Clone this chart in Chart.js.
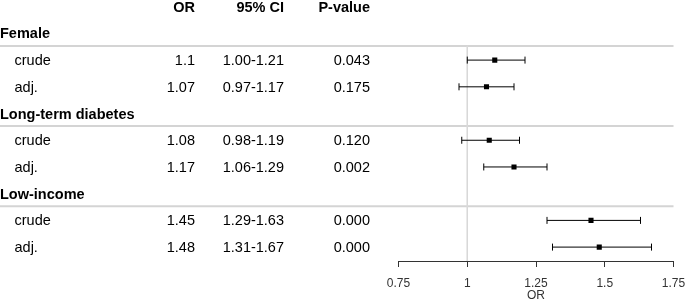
<!DOCTYPE html>
<html><head><meta charset="utf-8">
<script src="https://cdn.jsdelivr.net/npm/chart.js@4.4.0/dist/chart.umd.min.js"></script>
<style>html,body{margin:0;padding:0;background:#fff}#wrap{width:685px;height:301px;position:relative}</style>
</head><body><div id="wrap"><canvas id="c" width="685" height="301"></canvas></div>
<script>
// ---- data ----
const groups = ['Female', 'Long-term diabetes', 'Low-income'];
const rowLabels = ['crude', 'adj.', 'crude', 'adj.', 'crude', 'adj.'];
const orValues = [1.1, 1.07, 1.08, 1.17, 1.45, 1.48];
const ciLow = [1.00, 0.97, 0.98, 1.06, 1.29, 1.31];
const ciHigh = [1.21, 1.17, 1.19, 1.29, 1.63, 1.67];
const orText = ['1.1', '1.07', '1.08', '1.17', '1.45', '1.48'];
const ciText = ['1.00-1.21', '0.97-1.17', '0.98-1.19', '1.06-1.29', '1.29-1.63', '1.31-1.67'];
const pText = ['0.043', '0.175', '0.120', '0.002', '0.000', '0.000'];
const headers = ['OR', '95% CI', 'P-value'];
const xTicks = [0.75, 1, 1.25, 1.5, 1.75];
const xTitle = 'OR';
const refValue = 1;

// ---- row positions (category index on y scale) ----
const rowsPerGroup = 2;
const rowY = i => 3 * Math.floor(i / rowsPerGroup) + 2 + (i % rowsPerGroup);
const groupY = g => 3 * g + 1;
const sepY = g => 3 * g + 1.47;
const headerY = 0;

const FONT = '"Liberation Sans", Arial, Helvetica, sans-serif';

const datasets = [];
datasets.push({
  label: 'OR',
  data: orValues.map((v, i) => ({ x: v, y: rowY(i) })),
  showLine: false,
  pointStyle: 'rect',
  pointRadius: 3.6,
  backgroundColor: '#000',
  borderColor: '#000',
  borderWidth: 0
});
orValues.forEach((v, i) => {
  datasets.push({
    label: 'CI ' + i,
    data: [{ x: ciLow[i], y: rowY(i) }, { x: ciHigh[i], y: rowY(i) }],
    showLine: true,
    borderColor: '#000',
    borderWidth: 1,
    pointStyle: 'line',
    pointRotation: 90,
    pointRadius: 3.5,
    pointBorderColor: '#000',
    pointBorderWidth: 1
  });
});
datasets.push({
  label: 'ref',
  data: [{ x: refValue, y: sepY(0) }, { x: refValue, y: 20 }],
  showLine: true,
  borderColor: '#d9d9d9',
  borderWidth: 1,
  pointRadius: 0
});

const tablePlugin = {
  id: 'table',
  beforeDatasetsDraw(chart) {
    const { ctx, scales: { y } } = chart;
    ctx.save();
    ctx.strokeStyle = '#d4d4d4';
    ctx.lineWidth = 2;
    groups.forEach((g, gi) => {
      const py = y.getPixelForValue(sepY(gi));
      ctx.beginPath();
      ctx.moveTo(0, py);
      ctx.lineTo(chart.chartArea.right, py);
      ctx.stroke();
    });
    ctx.restore();
  },
  afterDraw(chart) {
    const { ctx, scales: { y } } = chart;
    const base = 5;
    const colOR = 195, colCI = 284, colP = 370;
    ctx.save();
    ctx.fillStyle = '#000';
    ctx.textBaseline = 'alphabetic';
    ctx.font = 'bold 14.5px ' + FONT;
    ctx.textAlign = 'right';
    const hy = y.getPixelForValue(headerY) + base;
    ctx.fillText(headers[0], colOR, hy);
    ctx.fillText(headers[1], colCI, hy);
    ctx.fillText(headers[2], colP, hy);
    ctx.textAlign = 'left';
    groups.forEach((g, gi) => {
      ctx.fillText(g, 0, y.getPixelForValue(groupY(gi)) + base);
    });
    ctx.font = '14.5px ' + FONT;
    rowLabels.forEach((lab, i) => {
      const py = y.getPixelForValue(rowY(i)) + base;
      ctx.textAlign = 'left';
      ctx.fillText(lab, 14.5, py);
      ctx.textAlign = 'right';
      ctx.fillText(orText[i], colOR, py);
      ctx.fillText(ciText[i], colCI, py);
      ctx.fillText(pText[i], colP, py);
    });
    ctx.restore();
  }
};

new Chart(document.getElementById('c'), {
  type: 'scatter',
  data: { datasets },
  options: {
    responsive: false,
    animation: false,
    events: [],
    devicePixelRatio: 1,
    layout: { autoPadding: false, padding: { left: 398.5, right: 11.5, top: 0, bottom: 0 } },
    plugins: { legend: { display: false }, tooltip: { enabled: false } },
    scales: {
      x: {
        type: 'linear',
        min: xTicks[0],
        max: xTicks[xTicks.length - 1],
        afterBuildTicks: s => { s.ticks = xTicks.map(v => ({ value: v })); },
        afterFit: s => { s.height = 40; s.paddingLeft = 0; s.paddingRight = 0; },
        grid: { drawOnChartArea: false, drawTicks: true, tickLength: 6, color: '#333', lineWidth: 1 },
        border: { display: true, color: '#333', width: 1 },
        ticks: {
          padding: 9,
          color: '#333',
          font: { family: FONT, size: 12 },
          maxRotation: 0,
          autoSkip: false,
          callback: v => String(v)
        },
        title: {
          display: true,
          text: xTitle,
          color: '#333',
          font: { family: FONT, size: 12 },
          padding: { top: 0, bottom: -2 }
        }
      },
      y: {
        type: 'linear',
        display: false,
        reverse: true,
        min: -0.25,
        max: 9.52
      }
    }
  },
  plugins: [tablePlugin]
});
</script></body></html>
